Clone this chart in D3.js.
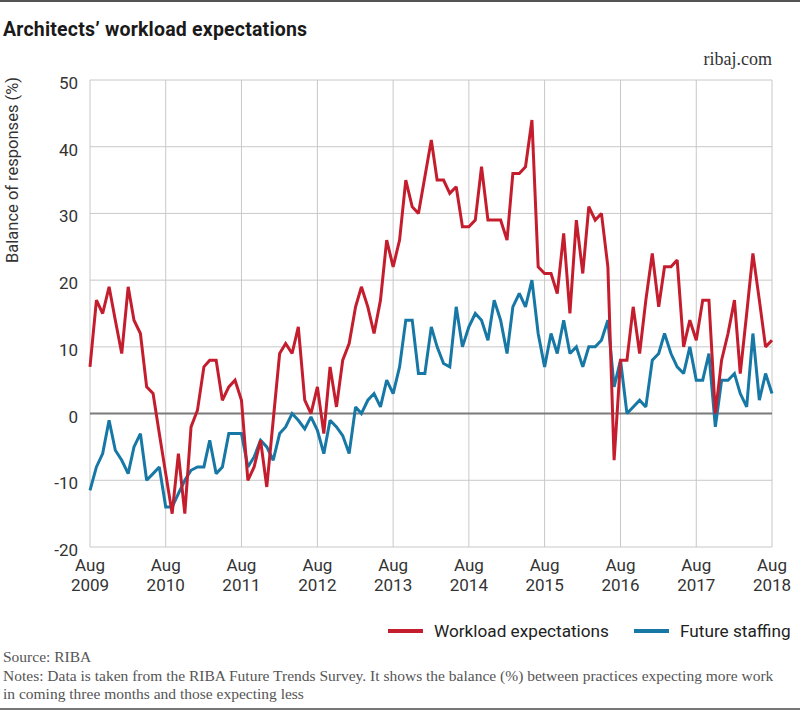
<!DOCTYPE html>
<html><head><meta charset="utf-8">
<script src="https://cdn.jsdelivr.net/npm/d3@7/dist/d3.min.js"></script>
<style>body{margin:0;background:#fff} svg{display:block}</style>
</head><body>
<script>
// Monthly balance (%) from Aug 2009 to Aug 2018
const workload = [7,17,15,19,14,9,19,14,12,4,3,-3,-9,-15,-6,-15,-2,0.5,7,8,
  8,2,4,5,2,-10,-8,-4,-11,-1,9,10.5,9,13,2,0,4,-3,7,1,
  8,10.5,16,19,16,12,17,26,22,26,35,31,30,35.5,41,35,35,33,34,28,
  28,29,37,29,29,29,26,36,36,37,44,22,21,21,18,27,15,29,21,31,
  29,30,22,-7,8,8,16,9,17,24,16,22,22,23,10,14,11,17,17,0,
  8,12,17,6,15,24,17,10,11];
const staffing = [-11.5,-8,-6,-1,-5.5,-7,-9,-5,-3,-10,-9,-8,-14,-14,-12,-10,-8.5,-8,-8,-4,
  -9,-8,-3,-3,-3,-8,-6.5,-4,-5,-7,-3,-2,0,-1,-2.3,-0.5,-2.5,-6,-1,-2,
  -3.3,-6,1,0,2,3,1,5,3,7,14,14,6,6,13,10,7.5,7,16,10,
  13,15,14,11,17,14,9,16,18,16,20,12,7,12,9,14,9,10,7,10,
  10,11,14,4,8,0,1,2,1,8,9,12,9,7,6,10,5,5,9,-2,
  5,5,6,3,1,12,2,6,3];
const tickYears = ["2009","2010","2011","2012","2013","2014","2015","2016","2017","2018"];
const tickMonth = "Aug";
const yTicks = [-20,-10,0,10,20,30,40,50];
const seriesNames = ["Workload expectations","Future staffing"];
const seriesColors = ["#c41e2e","#1778a6"];

const W = 800, H = 713;
const svg = d3.select("body").append("svg").attr("width", W).attr("height", H);

const start = new Date(2009, 7, 1);
const dates = workload.map((d, i) => d3.timeMonth.offset(start, i));

const x = d3.scaleTime().domain([start, dates[dates.length - 1]]).range([90, 772]);
const y = d3.scaleLinear().domain([-20, 50]).range([547, 80]);

const sans = "Roboto, 'Liberation Sans', sans-serif";
const serif = "'Liberation Serif', 'DejaVu Serif', serif";

// frame lines
svg.append("line").attr("x1", 0).attr("x2", W).attr("y1", 1).attr("y2", 1)
  .attr("stroke", "#555").attr("stroke-width", 2);
svg.append("line").attr("x1", 0).attr("x2", W).attr("y1", 709).attr("y2", 709)
  .attr("stroke", "#777").attr("stroke-width", 2);

// title
svg.append("text").attr("x", 3).attr("y", 36).text("Architects\u2019 workload expectations")
  .attr("font-family", sans).attr("font-weight", "bold").attr("font-size", 19.5)
  .attr("fill", "#1a1a1a").attr("letter-spacing", 0.2);
svg.append("text").attr("x", 772).attr("y", 65).attr("text-anchor", "end").text("ribaj.com")
  .attr("font-family", serif).attr("font-size", 18).attr("fill", "#333");

// grid
const tickDates = tickYears.map(t => new Date(+t, 7, 1));
const grid = svg.append("g");
grid.selectAll("line.h").data(yTicks.filter(v => v !== 0)).join("line")
  .attr("x1", 90).attr("x2", 772).attr("y1", d => y(d)).attr("y2", d => y(d))
  .attr("stroke", "#c8c8c8").attr("stroke-width", 1);
grid.selectAll("line.v").data(tickDates).join("line")
  .attr("x1", d => x(d)).attr("x2", d => x(d)).attr("y1", y(50)).attr("y2", y(-20))
  .attr("stroke", "#c8c8c8").attr("stroke-width", 1);
grid.append("line").attr("x1", 90).attr("x2", 772).attr("y1", y(0)).attr("y2", y(0))
  .attr("stroke", "#7a7a7a").attr("stroke-width", 2);

// y axis labels
const yAxis = d3.axisLeft(y).tickValues(yTicks).tickSize(0).tickPadding(12).tickFormat(d => String(d));
const gy = svg.append("g").attr("transform", "translate(90,3)").call(yAxis);
gy.select(".domain").remove();
gy.selectAll("text").attr("font-family", sans).attr("font-size", 17).attr("fill", "#333");

svg.append("text").attr("transform", "translate(12,170) rotate(-90)").attr("text-anchor", "middle")
  .attr("dominant-baseline", "central").text("Balance of responses (%)")
  .attr("font-family", sans).attr("font-size", 16.5).attr("fill", "#333");

// x axis labels
const xl = svg.append("g");
tickDates.forEach((d, i) => {
  const t = xl.append("text").attr("x", x(d)).attr("text-anchor", "middle")
    .attr("font-family", sans).attr("font-size", 17).attr("fill", "#333");
  t.append("tspan").attr("x", x(d)).attr("y", 571).text(tickMonth);
  t.append("tspan").attr("x", x(d)).attr("y", 591).text(tickYears[i]);
});

// lines
const line = d3.line().x((d, i) => x(dates[i])).y(d => y(d));
[staffing, workload].forEach((s, k) => {
  svg.append("path").datum(s).attr("d", line).attr("fill", "none")
    .attr("stroke", k === 0 ? seriesColors[1] : seriesColors[0])
    .attr("stroke-width", 3).attr("stroke-linejoin", "miter").attr("stroke-miterlimit", 2);
});

// legend
const leg = svg.append("g");
const legItems = [{x: 388, name: seriesNames[0], c: seriesColors[0]}, {x: 634, name: seriesNames[1], c: seriesColors[1]}];
legItems.forEach(it => {
  leg.append("line").attr("x1", it.x).attr("x2", it.x + 35).attr("y1", 631).attr("y2", 631)
    .attr("stroke", it.c).attr("stroke-width", 4);
  leg.append("text").attr("x", it.x + 46).attr("y", 637).text(it.name)
    .attr("font-family", sans).attr("font-size", 17.2).attr("fill", "#222");
});

// source & notes
const notes = ["Source: RIBA",
  "Notes: Data is taken from the RIBA Future Trends Survey. It shows the balance (%) between practices expecting more work",
  "in coming three months and those expecting less"];
notes.forEach((t, i) => {
  svg.append("text").attr("x", 3).attr("y", 662 + i * 18.5).text(t)
    .attr("font-family", serif).attr("font-size", 15.5).attr("fill", "#555");
});
</script>
</body></html>
